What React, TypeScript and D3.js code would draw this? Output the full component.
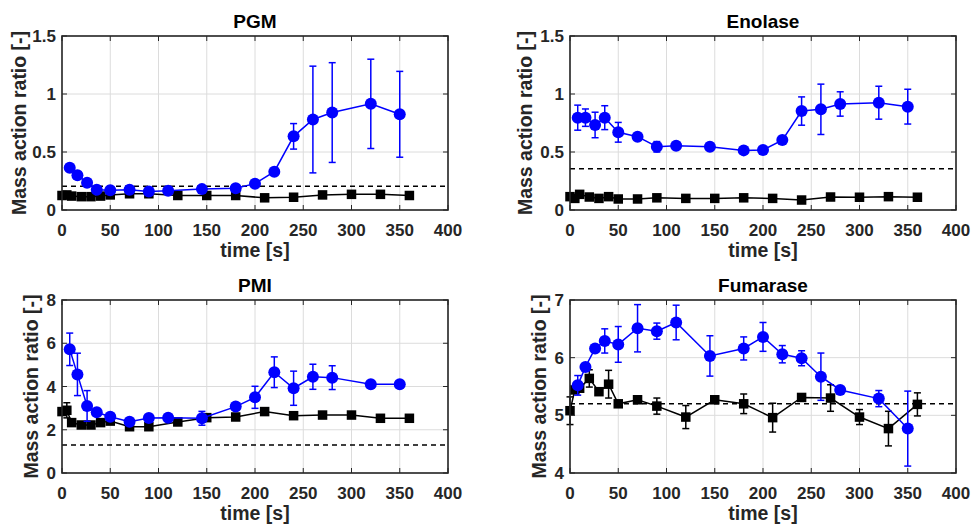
import React from "react";
import * as d3 from "d3";

// ---- time axes ----
const blueTimes = [8, 16, 26, 36, 50, 70, 90, 110, 145, 180, 200, 220, 240, 260, 280, 320, 350];
const blackTimes = [0, 5, 10, 20, 30, 40, 50, 70, 90, 120, 150, 180, 210, 240, 270, 300, 330, 360];
const xTicks = [0, 50, 100, 150, 200, 250, 300, 350, 400];

// ---- PGM ----
const pgmBlue = [0.365, 0.3, 0.235, 0.175, 0.17, 0.175, 0.16, 0.165, 0.18, 0.187, 0.227, 0.33, 0.635, 0.78, 0.84, 0.915, 0.825];
const pgmBlueErr = [0, 0, 0, 0, 0, 0, 0, 0, 0, 0, 0, 0, 0.11, 0.46, 0.43, 0.385, 0.37];
const pgmBlack = [0.125, 0.13, 0.12, 0.115, 0.115, 0.12, 0.13, 0.14, 0.14, 0.125, 0.125, 0.125, 0.105, 0.11, 0.13, 0.135, 0.135, 0.125];
const pgmBlackErr = [0, 0, 0, 0, 0, 0, 0, 0, 0, 0, 0, 0, 0, 0, 0, 0, 0, 0];
const pgmDashed = 0.205;
const pgmYTicks = [0, 0.5, 1, 1.5];

// ---- Enolase ----
const enoBlue = [0.796, 0.796, 0.733, 0.796, 0.67, 0.632, 0.545, 0.554, 0.546, 0.514, 0.517, 0.603, 0.853, 0.868, 0.914, 0.925, 0.891];
const enoBlueErr = [0.108, 0.075, 0.11, 0.103, 0.085, 0, 0.045, 0, 0, 0, 0, 0, 0.122, 0.217, 0.105, 0.142, 0.15];
const enoBlack = [0.115, 0.1, 0.135, 0.112, 0.1, 0.115, 0.095, 0.095, 0.105, 0.1, 0.1, 0.105, 0.1, 0.086, 0.112, 0.11, 0.115, 0.11];
const enoBlackErr = [0, 0, 0, 0, 0, 0, 0, 0, 0, 0, 0, 0, 0, 0, 0, 0, 0, 0];
const enoDashed = 0.355;
const enoYTicks = [0, 0.5, 1, 1.5];

// ---- PMI ----
const pmiBlue = [5.72, 4.56, 3.1, 2.81, 2.6, 2.37, 2.54, 2.56, 2.53, 3.07, 3.5, 4.66, 3.92, 4.45, 4.41, 4.1, 4.1];
const pmiBlueErr = [0.75, 0.98, 0.71, 0, 0, 0, 0, 0, 0.32, 0, 0.51, 0.71, 0.79, 0.58, 0.55, 0, 0];
const pmiBlack = [2.84, 2.9, 2.33, 2.22, 2.22, 2.33, 2.4, 2.14, 2.14, 2.36, 2.56, 2.59, 2.84, 2.65, 2.68, 2.68, 2.53, 2.53];
const pmiBlackErr = [0, 0.35, 0, 0, 0, 0, 0, 0, 0, 0, 0, 0, 0, 0, 0, 0, 0, 0];
const pmiDashed = 1.3;
const pmiYTicks = [0, 2, 4, 6, 8];

// ---- Fumarase ----
const fumBlue = [5.52, 5.84, 6.16, 6.29, 6.23, 6.51, 6.46, 6.61, 6.03, 6.16, 6.36, 6.06, 5.99, 5.67, 5.44, 5.29, 4.77];
const fumBlueErr = [0.17, 0, 0, 0.21, 0.31, 0.41, 0.14, 0.3, 0.35, 0.2, 0.25, 0.15, 0.13, 0.41, 0, 0.14, 0.65];
const fumBlack = [5.08, 5.44, 5.47, 5.64, 5.41, 5.54, 5.2, 5.27, 5.16, 4.97, 5.27, 5.2, 4.96, 5.31, 5.3, 4.97, 4.77, 5.19];
const fumBlackErr = [0.24, 0, 0, 0.15, 0, 0.24, 0, 0, 0.14, 0.2, 0, 0.17, 0.25, 0, 0.23, 0.13, 0.3, 0.2];
const fumDashed = 5.2;
const fumYTicks = [4, 5, 6, 7];

const titles = ["PGM", "Enolase", "PMI", "Fumarase"];
const yLabel = "Mass action ratio [-]";
const xLabel = "time [s]";

const FONT = "'Liberation Sans', Arial, Helvetica, sans-serif";
const AX = "#262626";
const BLUE = "#0000ff";

type PanelProps = {
  title: string;
  x0: number; x1: number; y0: number; y1: number;
  yTicks: number[];
  blue: number[]; blueErr: number[];
  black: number[]; blackErr: number[];
  dashed: number;
  yLabelX: number;
};

function Panel(p: PanelProps) {
  const x = d3.scaleLinear().domain([0, 400]).range([p.x0, p.x1]);
  const y = d3
    .scaleLinear()
    .domain([p.yTicks[0], p.yTicks[p.yTicks.length - 1]])
    .range([p.y1, p.y0]);
  const line = d3
    .line<[number, number]>()
    .x((d) => x(d[0]))
    .y((d) => y(d[1]));
  const bluePts: [number, number][] = blueTimes.map((t, i) => [t, p.blue[i]]);
  const blackPts: [number, number][] = blackTimes.map((t, i) => [t, p.black[i]]);
  const tickLen = 5;
  const cap = 3.5;
  const sq = 9.5;
  const fmt = (v: number) => String(v);

  const errBars = (pts: [number, number][], errs: number[], color: string) =>
    pts.map((d, i) =>
      errs[i] > 0 ? (
        <g key={i} stroke={color} strokeWidth={1.5}>
          <line x1={x(d[0])} x2={x(d[0])} y1={y(d[1] - errs[i])} y2={y(d[1] + errs[i])} />
          <line x1={x(d[0]) - cap} x2={x(d[0]) + cap} y1={y(d[1] - errs[i])} y2={y(d[1] - errs[i])} />
          <line x1={x(d[0]) - cap} x2={x(d[0]) + cap} y1={y(d[1] + errs[i])} y2={y(d[1] + errs[i])} />
        </g>
      ) : null
    );

  return (
    <g>
      <rect x={p.x0} y={p.y0} width={p.x1 - p.x0} height={p.y1 - p.y0} fill="#fff" />
      {xTicks.map((t) => (
        <line key={"gx" + t} x1={x(t)} x2={x(t)} y1={p.y0} y2={p.y1} stroke="#dcdcdc" strokeWidth={1} />
      ))}
      {p.yTicks.map((t) => (
        <line key={"gy" + t} x1={p.x0} x2={p.x1} y1={y(t)} y2={y(t)} stroke="#dcdcdc" strokeWidth={1} />
      ))}
      <line x1={x(0)} x2={x(400)} y1={y(p.dashed)} y2={y(p.dashed)} stroke="#000" strokeWidth={1.5} strokeDasharray="5,4" />
      {errBars(blackPts, p.blackErr, "#000")}
      <path d={line(blackPts) || ""} fill="none" stroke="#000" strokeWidth={1.5} />
      {blackPts.map((d, i) => (
        <rect key={"s" + i} x={x(d[0]) - sq / 2} y={y(d[1]) - sq / 2} width={sq} height={sq} fill="#000" />
      ))}
      {errBars(bluePts, p.blueErr, BLUE)}
      <path d={line(bluePts) || ""} fill="none" stroke={BLUE} strokeWidth={1.5} />
      {bluePts.map((d, i) => (
        <circle key={"c" + i} cx={x(d[0])} cy={y(d[1])} r={6} fill={BLUE} />
      ))}
      {xTicks.map((t) => (
        <g key={"tx" + t} stroke={AX} strokeWidth={1}>
          <line x1={x(t)} x2={x(t)} y1={p.y1} y2={p.y1 - tickLen} />
          <line x1={x(t)} x2={x(t)} y1={p.y0} y2={p.y0 + tickLen} />
        </g>
      ))}
      {p.yTicks.map((t) => (
        <g key={"ty" + t} stroke={AX} strokeWidth={1}>
          <line x1={p.x0} x2={p.x0 + tickLen} y1={y(t)} y2={y(t)} />
          <line x1={p.x1} x2={p.x1 - tickLen} y1={y(t)} y2={y(t)} />
        </g>
      ))}
      <rect x={p.x0} y={p.y0} width={p.x1 - p.x0} height={p.y1 - p.y0} fill="none" stroke={AX} strokeWidth={1.6} />
      {xTicks.map((t) => (
        <text key={"lx" + t} x={x(t)} y={p.y1 + 26} textAnchor="middle" fontSize={17} fontWeight="bold" fill={AX} fontFamily={FONT}>
          {fmt(t)}
        </text>
      ))}
      {p.yTicks.map((t) => (
        <text key={"ly" + t} x={p.x0 - 6} y={y(t)} dy="0.36em" textAnchor="end" fontSize={17} fontWeight="bold" fill={AX} fontFamily={FONT}>
          {fmt(t)}
        </text>
      ))}
      <text x={(p.x0 + p.x1) / 2} y={p.y1 + 46.5} textAnchor="middle" fontSize={19.5} fontWeight="bold" fill={AX} fontFamily={FONT}>
        {xLabel}
      </text>
      <text
        transform={`translate(${p.yLabelX},${(p.y0 + p.y1) / 2}) rotate(-90)`}
        textAnchor="middle"
        fontSize={19.5}
        fontWeight="bold"
        fill={AX}
        fontFamily={FONT}
      >
        {yLabel}
      </text>
      <text x={(p.x0 + p.x1) / 2} y={p.y0 - 8} textAnchor="middle" fontSize={19} fontWeight="bold" fill="#000" fontFamily={FONT}>
        {p.title}
      </text>
    </g>
  );
}

export default function App() {
  const L = [62, 448];
  const R = [570, 956];
  const T = [36, 210];
  const B = [300, 473];
  return (
    <svg
      width={971}
      height={525}
      style={{ position: "absolute", left: 0, top: 0, background: "#fff" }}
    >
      <rect width={971} height={525} fill="#fff" />
      <Panel title={titles[0]} x0={L[0]} x1={L[1]} y0={T[0]} y1={T[1]} yTicks={pgmYTicks}
        blue={pgmBlue} blueErr={pgmBlueErr} black={pgmBlack} blackErr={pgmBlackErr} dashed={pgmDashed} yLabelX={26} />
      <Panel title={titles[1]} x0={R[0]} x1={R[1]} y0={T[0]} y1={T[1]} yTicks={enoYTicks}
        blue={enoBlue} blueErr={enoBlueErr} black={enoBlack} blackErr={enoBlackErr} dashed={enoDashed} yLabelX={532} />
      <Panel title={titles[2]} x0={L[0]} x1={L[1]} y0={B[0]} y1={B[1]} yTicks={pmiYTicks}
        blue={pmiBlue} blueErr={pmiBlueErr} black={pmiBlack} blackErr={pmiBlackErr} dashed={pmiDashed} yLabelX={38} />
      <Panel title={titles[3]} x0={R[0]} x1={R[1]} y0={B[0]} y1={B[1]} yTicks={fumYTicks}
        blue={fumBlue} blueErr={fumBlueErr} black={fumBlack} blackErr={fumBlackErr} dashed={fumDashed} yLabelX={546} />
    </svg>
  );
}
